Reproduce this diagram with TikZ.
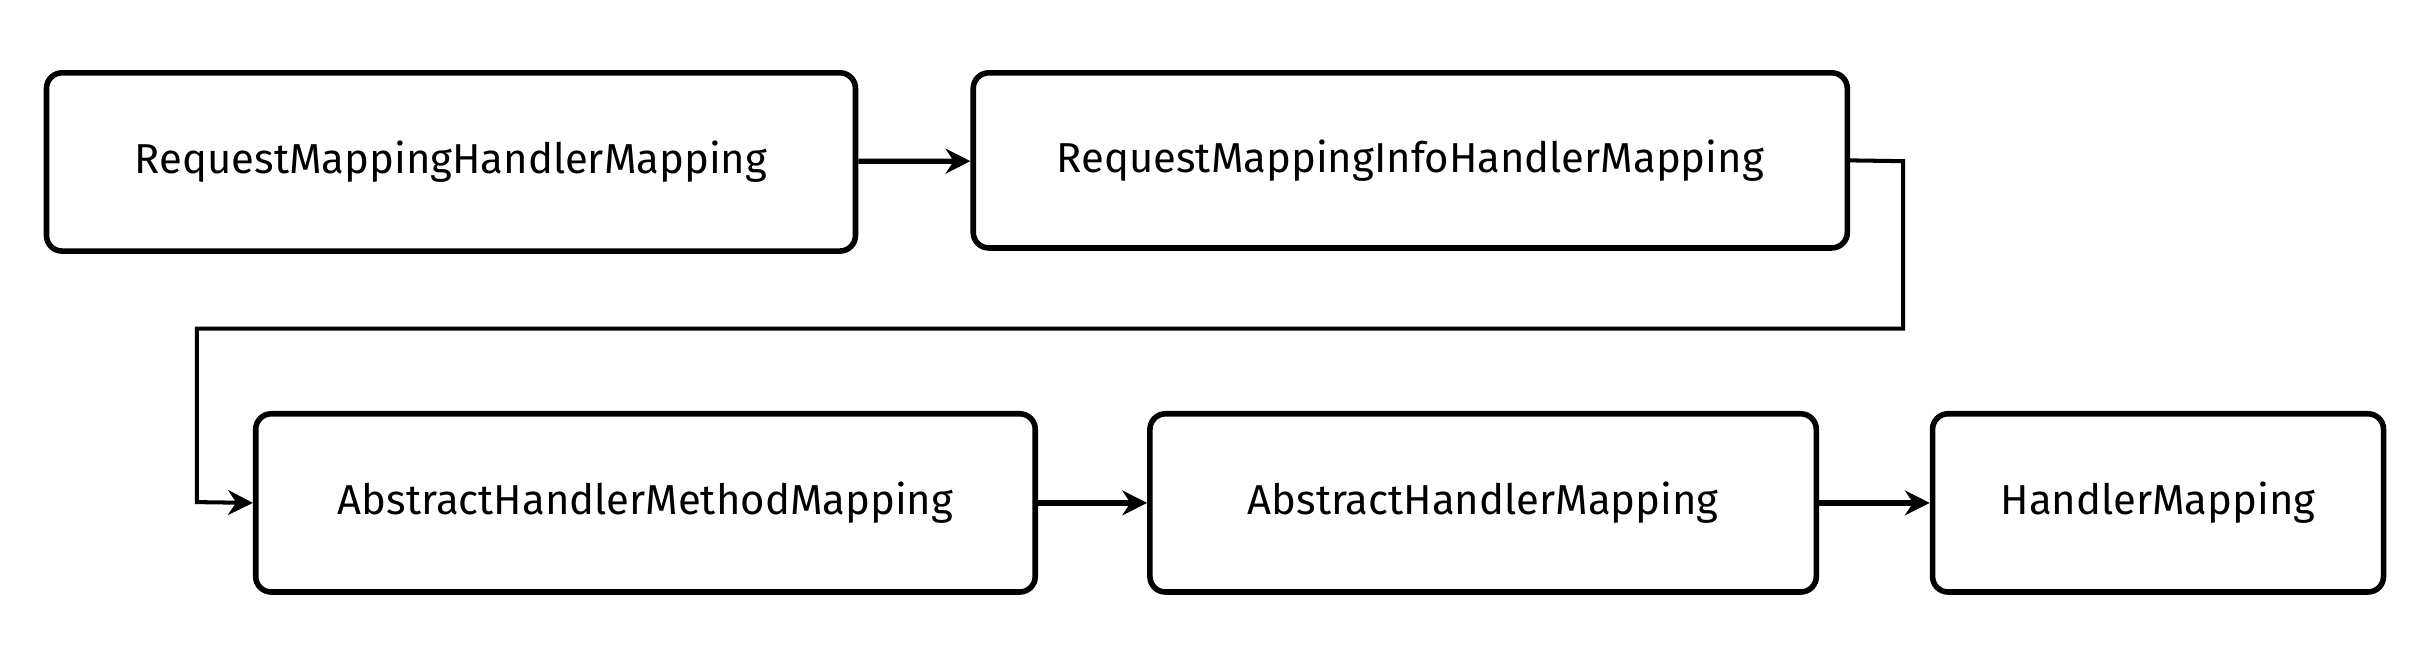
\documentclass[tikz,border=0pt]{standalone}
\usepackage{fontspec}
\setmainfont{Fira Sans}
\usetikzlibrary{arrows.meta}
\begin{document}
\begin{tikzpicture}[x=1pt,y=-1pt,
  box/.style={draw,line width=3.6pt,rounded corners=10pt,font=\fontsize{27}{32}\selectfont,inner sep=0pt},
  arr/.style={line width=3.4pt,-{Stealth[length=16pt,width=16pt]}}]
\useasboundingbox (0,0) rectangle (1568,428);
\node[box,minimum width=522pt,minimum height=115pt] (a) at (291,104.5) {RequestMappingHandlerMapping};
\node[box,minimum width=564pt,minimum height=113pt] (b) at (910,103.5) {RequestMappingInfoHandlerMapping};
\node[box,minimum width=503pt,minimum height=115pt] (c) at (416.5,324.5) {AbstractHandlerMethodMapping};
\node[box,minimum width=430pt,minimum height=115pt] (d) at (957,324.5) {AbstractHandlerMapping};
\node[box,minimum width=291pt,minimum height=115pt] (e) at (1392.5,324.5) {HandlerMapping};
\coordinate (p1) at (1228,104);
\coordinate (p2) at (1228,212);
\coordinate (p3) at (127,212);
\coordinate (p4) at (127,324);
\draw[arr] (a) -- (b);
\draw[arr] (c) -- (d);
\draw[arr] (d) -- (e);
\draw[arr,line width=2.6pt] (b.east) -- (p1) -- (p2) -- (p3) -- (p4) -- (c.west);
\end{tikzpicture}
\end{document}
